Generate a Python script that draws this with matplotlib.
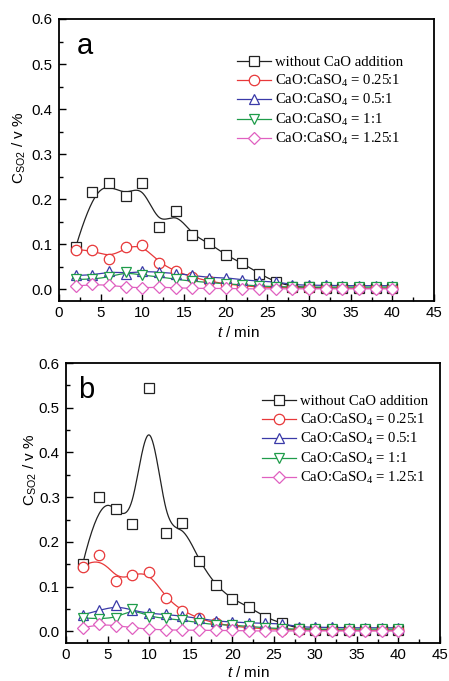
import numpy as np
import matplotlib
matplotlib.use("Agg")
import matplotlib.pyplot as plt
from matplotlib.ticker import MultipleLocator, FormatStrFormatter

plt.rcParams['font.family'] = ['Liberation Sans', 'DejaVu Sans']
plt.rcParams['mathtext.fontset'] = 'custom'
plt.rcParams['mathtext.rm'] = 'Liberation Sans'
plt.rcParams['mathtext.it'] = 'Liberation Sans:italic'

# ---- data ----
time_min = [2, 4, 6, 8, 10, 12, 14, 16, 18, 20, 22, 24, 26, 28, 30, 32, 34, 36, 38, 40]

labels = ["without CaO addition",
          "CaO:CaSO$\\mathregular{_4}$ = 0.25:1",
          "CaO:CaSO$\\mathregular{_4}$ = 0.5:1",
          "CaO:CaSO$\\mathregular{_4}$ = 1:1",
          "CaO:CaSO$\\mathregular{_4}$ = 1.25:1"]

a_none = [0.093, 0.216, 0.235, 0.207, 0.235, 0.138, 0.173, 0.120, 0.103, 0.076,
          0.058, 0.035, 0.016, 0.006, 0.004, 0.003, 0.002, 0.002, 0.002, 0.002]
a_025 = [0.088, 0.087, 0.068, 0.093, 0.099, 0.059, 0.040, 0.027, 0.018, 0.012,
         0.008, 0.005, 0.004, 0.003, 0.003, 0.002, 0.002, 0.002, 0.002, 0.002]
a_05 = [0.031, 0.031, 0.040, 0.035, 0.040, 0.038, 0.035, 0.031, 0.026, 0.026,
        0.021, 0.018, 0.017, 0.010, 0.009, 0.009, 0.008, 0.008, 0.008, 0.008]
a_1 = [0.022, 0.022, 0.027, 0.038, 0.031, 0.028, 0.022, 0.018, 0.015, 0.012,
       0.010, 0.007, 0.006, 0.005, 0.005, 0.005, 0.005, 0.005, 0.005, 0.005]
a_125 = [0.007, 0.011, 0.009, 0.005, 0.003, 0.005, 0.003, 0.002, 0.002, 0.002,
         0.001, 0.001, 0.001, 0.001, 0.001, 0.001, 0.001, 0.001, 0.001, 0.001]

b_none = [0.150, 0.301, 0.273, 0.240, 0.544, 0.219, 0.242, 0.158, 0.103, 0.072,
          0.055, 0.031, 0.018, 0.006, 0.004, 0.003, 0.002, 0.002, 0.002, 0.002]
b_025 = [0.144, 0.171, 0.112, 0.127, 0.133, 0.075, 0.046, 0.029, 0.018, 0.012,
         0.008, 0.006, 0.004, 0.003, 0.003, 0.002, 0.002, 0.002, 0.002, 0.002]
b_05 = [0.037, 0.047, 0.058, 0.047, 0.040, 0.038, 0.034, 0.029, 0.023, 0.021,
        0.019, 0.018, 0.017, 0.010, 0.009, 0.009, 0.008, 0.008, 0.008, 0.008]
b_1 = [0.030, 0.028, 0.029, 0.050, 0.033, 0.029, 0.025, 0.019, 0.015, 0.014,
       0.011, 0.008, 0.006, 0.005, 0.005, 0.005, 0.005, 0.005, 0.005, 0.005]
b_125 = [0.008, 0.016, 0.013, 0.008, 0.005, 0.003, 0.003, 0.002, 0.002, 0.002,
         0.001, 0.001, 0.001, 0.001, 0.001, 0.001, 0.001, 0.001, 0.001, 0.001]

colors = ['#222222', '#e8383a', '#3a3aa8', '#1f9c4a', '#e060c0']
markers = ['s', 'o', '^', 'v', 'D']
msizes = [6.8, 7.5, 7.5, 7.5, 6.0]


def bspline(xs, ys, k=3, num=500):
    P = np.column_stack([xs, ys]).astype(float)
    n = len(P)
    t = np.concatenate([np.zeros(k), np.arange(n - k + 1), np.full(k, n - k)]).astype(float)
    u = np.linspace(0, n - k, num)
    u[-1] -= 1e-9
    N = np.zeros((num, len(t) - 1))
    for i in range(len(t) - 1):
        N[:, i] = ((t[i] <= u) & (u < t[i + 1])).astype(float)
    for d in range(1, k + 1):
        Nn = np.zeros((num, len(t) - 1 - d))
        for i in range(len(t) - 1 - d):
            term = np.zeros(num)
            if t[i + d] != t[i]:
                term += (u - t[i]) / (t[i + d] - t[i]) * N[:, i]
            if t[i + d + 1] != t[i + 1]:
                term += (t[i + d + 1] - u) / (t[i + d + 1] - t[i + 1]) * N[:, i + 1]
            Nn[:, i] = term
        N = Nn
    C = N @ P
    return C[:, 0], C[:, 1]


fig = plt.figure(figsize=(4.49, 6.81), dpi=100)
ax_a = fig.add_axes([59 / 449, 1 - 301 / 681, 375 / 449, 282 / 681])
ax_b = fig.add_axes([66 / 449, 1 - 643 / 681, 374 / 449, 280 / 681])

# (axes, series, letter, letter x, legend anchor, ylabel pos, xlabel pos)
panels = [
    (ax_a, [a_none, a_025, a_05, a_1, a_125], 'a', 0.048,
     (237 / 449, 1 - 56 / 681), (-0.107, 0.543), (0.477, -0.113)),
    (ax_b, [b_none, b_025, b_05, b_1, b_125], 'b', 0.032,
     (262 / 449, 1 - 395 / 681), (-0.096, 0.62), (0.487, -0.107)),
]

for ax, series, letter, lx, legpos, ylpos, xlpos in panels:
    handles = []
    for ys, c, m, ms, lab in zip(series, colors, markers, msizes, labels):
        sx, sy = bspline(time_min, ys)
        ax.plot(sx, sy, '-', color=c, lw=0.9, zorder=2)
        ax.plot(time_min, ys, linestyle='none', marker=m, ms=ms, mfc='white',
                mec=c, mew=0.9, zorder=3)
        h, = ax.plot([], [], '-', color=c, lw=0.9, marker=m, ms=ms, mfc='white',
                     mec=c, mew=0.9, label=lab)
        handles.append(h)
    ax.set_xlim(0, 45)
    ax.set_ylim(-0.026, 0.6)
    ax.xaxis.set_major_locator(MultipleLocator(5))
    ax.xaxis.set_minor_locator(MultipleLocator(2.5))
    ax.set_yticks(np.arange(0, 0.61, 0.1))
    ax.yaxis.set_minor_locator(MultipleLocator(0.05))
    ax.yaxis.set_major_formatter(FormatStrFormatter('%.1f'))
    ax.tick_params(which='both', direction='in', labelsize=10.8, width=1.0)
    ax.tick_params(axis='y', pad=4.5)
    ax.tick_params(which='major', length=5)
    ax.tick_params(which='minor', length=3)
    for sp in ax.spines.values():
        sp.set_linewidth(1.3)
    ax.text(lx, 0.955, letter, transform=ax.transAxes, fontsize=21,
            va='top', ha='left')
    ax.text(ylpos[0], ylpos[1], 'C$\\mathregular{_{SO2}}$ / v %', transform=ax.transAxes,
            fontsize=11, rotation=90, ha='center', va='center')
    ax.text(xlpos[0], xlpos[1], '$\\mathit{t}$ / min', transform=ax.transAxes,
            fontsize=11, ha='center', va='center')
    ax.legend(handles=handles, loc='upper left', bbox_to_anchor=legpos,
              bbox_transform=fig.transFigure, frameon=False,
              prop={'family': 'Liberation Serif', 'size': 10.6},
              handlelength=2.3, handletextpad=0.3, labelspacing=0.23,
              borderpad=0, borderaxespad=0)

fig.savefig('out.png', dpi=100)
